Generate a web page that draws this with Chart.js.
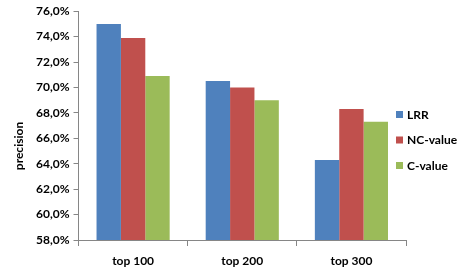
<!DOCTYPE html>
<html>
<head>
<meta charset="utf-8">
<script src="https://cdn.jsdelivr.net/npm/chart.js@4/dist/chart.umd.min.js"></script>
<style>
  html, body { margin: 0; padding: 0; background: #fff; }
  #wrap { width: 463px; height: 273px; }
</style>
</head>
<body>
<div id="wrap"><canvas id="chart"></canvas></div>
<script>
// dữ liệu
const categories = ["top 100", "top 200", "top 300"];
const lrr = [75.0, 70.5, 64.3];
const ncValue = [73.9, 70.0, 68.3];
const cValue = [70.9, 69.0, 67.3];
const seriesNames = ["LRR", "NC-value", "C-value"];
const seriesColors = ["#4F81BD", "#C0504D", "#9BBB59"];
const yTicks = [58, 60, 62, 64, 66, 68, 70, 72, 74, 76];
const yTitle = "precision";

const fontFamily = "Lato, 'Open Sans', sans-serif";
const font = { family: fontFamily, size: 12, weight: "bold" };
const axisGray = "#868686";

// chú thích và tiêu đề trục y vẽ tay, đặt như bản gốc
const sideLegend = {
  id: "sideLegend",
  afterDraw(chart) {
    const c = chart.ctx;
    c.save();
    c.font = "bold 12px " + fontFamily;
    c.textBaseline = "middle";
    chart.data.datasets.forEach((ds, i) => {
      const y = 114 + i * 25.5;
      c.fillStyle = ds.backgroundColor;
      c.fillRect(396, y - 3, 7, 7);
      c.fillStyle = "#000";
      c.fillText(ds.label, 407, y + 1);
    });
    // tiêu đề trục y, hơi lệch xuống dưới
    c.translate(19, 146);
    c.rotate(-Math.PI / 2);
    c.textAlign = "center";
    c.fillText(yTitle, 0, 0);
    c.restore();
  }
};

const ctx = document.getElementById("chart").getContext("2d");
new Chart(ctx, {
  type: "bar",
  data: {
    labels: categories,
    datasets: seriesNames.map((name, i) => ({
      label: name,
      data: [lrr, ncValue, cValue][i],
      backgroundColor: seriesColors[i]
    }))
  },
  options: {
    responsive: true,
    maintainAspectRatio: false,
    animation: false,
    layout: { padding: { left: 32, right: 57, top: 5, bottom: 3 } },
    datasets: {
      bar: { barPercentage: 1, categoryPercentage: 0.67 }
    },
    plugins: {
      legend: { display: false },
      tooltip: { enabled: false }
    },
    scales: {
      x: {
        afterFit: (axis) => { axis.height = 30; },
        grid: { display: true, drawOnChartArea: false, offset: true, tickLength: 6, color: axisGray },
        border: { color: axisGray },
        ticks: { color: "#000", font: font, padding: 8 }
      },
      y: {
        min: yTicks[0],
        max: yTicks[yTicks.length - 1],
        afterBuildTicks: (axis) => { axis.ticks = yTicks.map(v => ({ value: v })); },
        grid: { display: true, drawOnChartArea: false, tickLength: 5, color: axisGray },
        border: { color: axisGray },
        ticks: {
          color: "#000",
          font: font,
          padding: 4,
          callback: (v) => v.toFixed(1).replace(".", ",") + "%"
        }
      }
    }
  },
  plugins: [sideLegend]
});
</script>
</body>
</html>
